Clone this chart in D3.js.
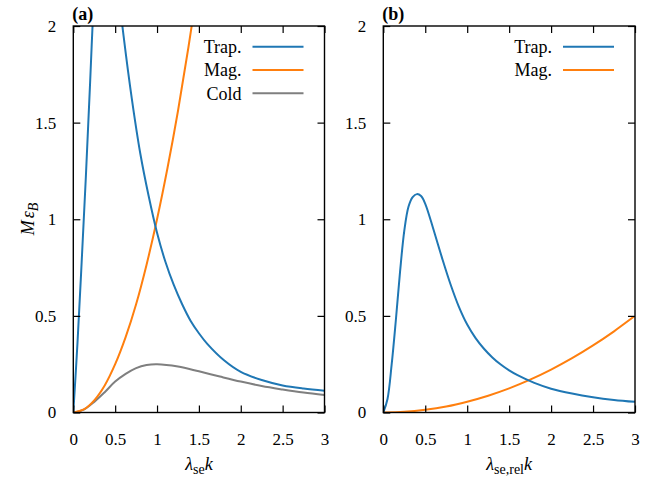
<!DOCTYPE html>
<html>
<head>
<meta charset="utf-8">
<script src="https://cdn.jsdelivr.net/npm/d3@7"></script>
<style>
  body { margin: 0; background: #fff; }
  svg text { font-family: "Liberation Serif", "Times New Roman", serif; }
</style>
</head>
<body>
<svg id="chart" width="664" height="483"></svg>
<script>
// values
var xTicks = [0, 0.5, 1, 1.5, 2, 2.5, 3];
var xTickLabels = ["0", "0.5", "1", "1.5", "2", "2.5", "3"];
var yTicks = [0, 0.5, 1, 1.5, 2];
var yTickLabels = ["0", "0.5", "1", "1.5", "2"];

// panel (a)
var trapA_x = [0, 0.05, 0.1, 0.15, 0.2, 0.25, 0.3, 0.35, 0.4, 0.45, 0.5, 0.55, 0.6, 0.7, 0.8, 0.9, 1.0, 1.1, 1.2, 1.3, 1.4, 1.5, 1.6, 1.8, 2.0, 2.25, 2.5, 2.75, 3.0];
var trapA_y = [0, 0.36, 0.78, 1.22, 1.7, 2.2, 2.6, 2.8, 2.8, 2.6, 2.37, 2.14, 1.95, 1.62, 1.34, 1.12, 0.93, 0.78, 0.66, 0.56, 0.475, 0.41, 0.355, 0.27, 0.21, 0.168, 0.14, 0.124, 0.113];
var magA_x = [0, 0.125, 0.25, 0.375, 0.5, 0.625, 0.75, 0.875, 1.0, 1.125, 1.25, 1.375, 1.5];
var magA_y = [0, 0.016, 0.063, 0.14, 0.25, 0.39, 0.56, 0.765, 1.0, 1.265, 1.56, 1.89, 2.25];
var coldA_x = [0, 0.125, 0.25, 0.375, 0.5, 0.625, 0.75, 0.875, 1.0, 1.25, 1.5, 1.75, 2.0, 2.25, 2.5, 2.75, 3.0];
var coldA_y = [0, 0.015, 0.055, 0.105, 0.16, 0.2, 0.23, 0.246, 0.25, 0.238, 0.213, 0.186, 0.16, 0.137, 0.119, 0.103, 0.09];

// panel (b)
var trapB_x = [0, 0.05, 0.1, 0.15, 0.2, 0.25, 0.3, 0.35, 0.4, 0.45, 0.5, 0.6, 0.7, 0.8, 0.9, 1.0, 1.1, 1.2, 1.3, 1.4, 1.5, 1.6, 1.8, 2.0, 2.25, 2.5, 2.75, 3.0];
var trapB_y = [0, 0.07, 0.25, 0.48, 0.73, 0.94, 1.065, 1.115, 1.13, 1.12, 1.08, 0.944, 0.8, 0.665, 0.548, 0.455, 0.385, 0.33, 0.285, 0.248, 0.218, 0.193, 0.153, 0.123, 0.098, 0.079, 0.065, 0.055];
var magB_x = [0, 0.25, 0.5, 0.75, 1.0, 1.25, 1.5, 1.75, 2.0, 2.25, 2.5, 2.75, 3.0];
var magB_y = [0, 0.0035, 0.014, 0.031, 0.056, 0.087, 0.125, 0.17, 0.222, 0.281, 0.347, 0.42, 0.5];

var blue = "#1f77b4", orange = "#ff7f0e", gray = "#7f7f7f";
var serif = "'Liberation Serif', 'Times New Roman', serif";

var svg = d3.select("#chart");
var top0 = 26, bottom0 = 412.5;

function zip(xs, ys) { return xs.map(function(x, i) { return [x, ys[i]]; }); }

var panels = [
  { id: "a", left: 73.3, right: 324.5, tag: "(a)",
    series: [
      { name: "Trap.", color: blue, data: zip(trapA_x, trapA_y) },
      { name: "Mag.", color: orange, data: zip(magA_x, magA_y) },
      { name: "Cold", color: gray, data: zip(coldA_x, coldA_y) }
    ], xsub: "se" },
  { id: "b", left: 383.3, right: 635, tag: "(b)",
    series: [
      { name: "Trap.", color: blue, data: zip(trapB_x, trapB_y) },
      { name: "Mag.", color: orange, data: zip(magB_x, magB_y) }
    ], xsub: "se,rel" }
];

panels.forEach(function(p) {
  var x = d3.scaleLinear().domain([0, 3]).range([p.left, p.right]);
  var y = d3.scaleLinear().domain([0, 2]).range([bottom0, top0]);
  var g = svg.append("g");

  g.append("clipPath").attr("id", "clip-" + p.id)
    .append("rect")
    .attr("x", p.left).attr("y", top0)
    .attr("width", p.right - p.left).attr("height", bottom0 - top0);

  var line = d3.line()
    .x(function(d) { return x(d[0]); })
    .y(function(d) { return y(d[1]); })
    .curve(d3.curveCatmullRom.alpha(0.5));

  g.append("g").attr("clip-path", "url(#clip-" + p.id + ")")
    .selectAll("path")
    .data(p.series.slice().reverse())
    .enter().append("path")
    .attr("d", function(s) { return line(s.data); })
    .attr("fill", "none")
    .attr("stroke", function(s) { return s.color; })
    .attr("stroke-width", 2);

  // axes, ticks pointing inward on every side
  var fmtX = function(d, i) { return xTickLabels[i]; };
  var fmtY = function(d, i) { return yTickLabels[i]; };
  var ax = [
    g.append("g").attr("transform", "translate(0," + bottom0 + ")")
      .call(d3.axisBottom(x).tickValues(xTicks).tickFormat(fmtX).tickSizeInner(-7).tickSizeOuter(0).tickPadding(20)),
    g.append("g").attr("transform", "translate(0," + top0 + ")")
      .call(d3.axisTop(x).tickValues(xTicks).tickFormat("").tickSizeInner(-7).tickSizeOuter(0)),
    g.append("g").attr("transform", "translate(" + p.left + ",0)")
      .call(d3.axisLeft(y).tickValues(yTicks).tickFormat(fmtY).tickSizeInner(-7).tickSizeOuter(0).tickPadding(17)),
    g.append("g").attr("transform", "translate(" + p.right + ",0)")
      .call(d3.axisRight(y).tickValues(yTicks).tickFormat("").tickSizeInner(-7).tickSizeOuter(0))
  ];
  ax.forEach(function(a) {
    a.attr("font-family", serif).attr("font-size", 17);
    a.select(".domain").remove();
    a.selectAll("line").attr("stroke", "#000").attr("stroke-width", 1.2);
    a.selectAll("text").attr("fill", "#000");
  });

  g.append("rect")
    .attr("x", p.left).attr("y", top0)
    .attr("width", p.right - p.left).attr("height", bottom0 - top0)
    .attr("fill", "none").attr("stroke", "#000").attr("stroke-width", 1.4);

  g.append("text")
    .attr("x", p.left - 1).attr("y", 20)
    .attr("font-size", 18).attr("font-weight", "bold")
    .text(p.tag);

  // legend
  var leg = g.selectAll(".leg").data(p.series).enter().append("g");
  leg.append("text")
    .attr("x", p.right - 83).attr("y", function(d, i) { return 53 + i * 23.3; })
    .attr("text-anchor", "end").attr("font-size", 18)
    .text(function(d) { return d.name; });
  leg.append("line")
    .attr("x1", p.right - 72).attr("x2", p.right - 21)
    .attr("y1", function(d, i) { return 46.7 + i * 23.3; })
    .attr("y2", function(d, i) { return 46.7 + i * 23.3; })
    .attr("stroke", function(d) { return d.color; })
    .attr("stroke-width", 2);

  // x label
  var xl = g.append("text")
    .attr("x", (p.left + p.right) / 2).attr("y", 470)
    .attr("text-anchor", "middle").attr("font-size", 18);
  xl.append("tspan").attr("font-style", "italic").text("λ");
  xl.append("tspan").attr("dy", 4).attr("font-size", 14).text(p.xsub);
  xl.append("tspan").attr("dy", -4).attr("font-style", "italic").text("k");
});

// y label
var yl = svg.append("text")
  .attr("transform", "translate(34,219) rotate(-90)")
  .attr("text-anchor", "middle").attr("font-size", 18);
yl.append("tspan").attr("font-style", "italic").text("M");
yl.append("tspan").attr("font-style", "italic").attr("dx", 2).text("ε");
yl.append("tspan").attr("font-style", "italic").attr("dy", 4).attr("font-size", 14).text("B");
</script>
</body>
</html>
